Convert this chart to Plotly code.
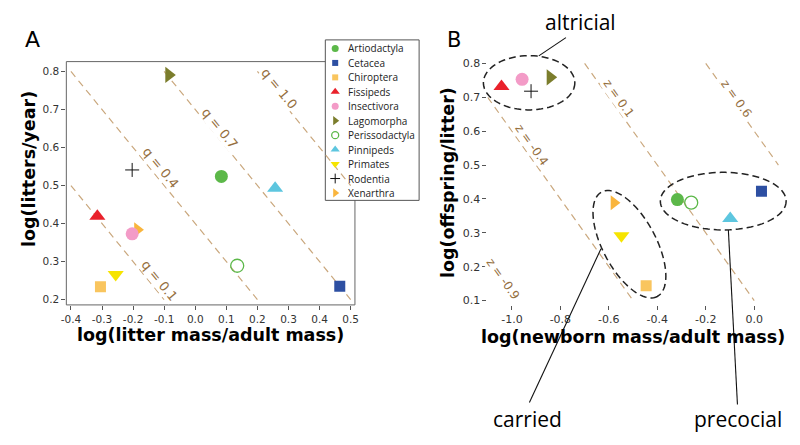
import numpy as np
import plotly.graph_objects as go

# the page body has an 8px margin, so the figure is drawn 8px in from the window corner
OFF = 8
W, H = 800 - OFF, 445 - OFF

orders = ['Artiodactyla', 'Cetacea', 'Chiroptera', 'Fissipeds', 'Insectivora', 'Lagomorpha',
          'Perissodactyla', 'Pinnipeds', 'Primates', 'Rodentia', 'Xenarthra']
colors = ['#5cb849', '#2d4fa2', '#f9c55e', '#e9212b', '#f39bc7', '#7b7d2c',
          '#5cb849', '#5dc6df', '#f6e400', '#111111', '#f9b53d']
symbols = ['circle', 'square', 'square', 'triangle-up', 'circle', 'triangle-right',
           'circle-open', 'triangle-up', 'triangle-down', 'cross-thin', 'triangle-right']
sizes = [13, 11, 11, 14, 13, 14, 13, 14, 14, 10, 13]
legend_sizes = [7, 6, 6, 8, 7, 8, 7, 8, 8, 7, 8]

# panel A
litter_mass = [0.084, 0.465, -0.305, -0.315, -0.203, -0.085, 0.135, 0.257, -0.256, -0.203, -0.186]
litters_year = [0.524, 0.235, 0.234, 0.419, 0.373, 0.791, 0.289, 0.493, 0.266, 0.541, 0.384]
# panel B
newborn_mass = [-0.317, 0.030, -0.446, -1.043, -0.958, -0.842, -0.260, -0.099, -0.548, -0.921, -0.579]
offspring = [0.398, 0.423, 0.144, 0.732, 0.753, 0.759, 0.389, 0.342, 0.291, 0.718, 0.389]

q_values = [0.1, 0.4, 0.7, 1.0]
q_label_x = [-0.116, -0.111, 0.080, 0.270]
q_label_y = [0.249, 0.548, 0.651, 0.755]
z_values = [-0.9, -0.4, 0.1, 0.6]
z_label_x = [-1.037, -0.918, -0.561, -0.072]
z_label_y = [0.163, 0.559, 0.697, 0.696]

a_xticks = [-0.4, -0.3, -0.2, -0.1, 0.0, 0.1, 0.2, 0.3, 0.4, 0.5]
a_xtext = ['-0.4', '-0.3', '-0.2', '-0.1', '0.0', '0.1', '0.2', '0.3', '0.4', '0.5']
a_yticks = [0.2, 0.3, 0.4, 0.5, 0.6, 0.7, 0.8]
a_ytext = ['0.2', '0.3', '0.4', '0.5', '0.6', '0.7', '0.8']
b_xticks = [-1.0, -0.8, -0.6, -0.4, -0.2, 0.0]
b_xtext = ['-1.0', '-0.8', '-0.6', '-0.4', '-0.2', '0.0']
b_yticks = [0.1, 0.2, 0.3, 0.4, 0.5, 0.6, 0.7, 0.8]
b_ytext = ['0.1', '0.2', '0.3', '0.4', '0.5', '0.6', '0.7', '0.8']

LINE_C = '#caa87e'
LABEL_C = '#96703f'


def pp(px, py):
    # window pixel -> paper
    return (px - OFF) / W, 1 - (py - OFF) / H


def ellipse_path(cx, cy, a, b, ang, n=90):
    t = np.linspace(0, 2 * np.pi, n, endpoint=False)
    th = np.radians(ang)
    xs = cx + a * np.cos(t) * np.cos(th) - b * np.sin(t) * np.sin(th)
    ys = cy + a * np.cos(t) * np.sin(th) + b * np.sin(t) * np.cos(th)
    pts = [pp(x, y) for x, y in zip(xs, ys)]
    return 'M' + ' L'.join('%.5f,%.5f' % p for p in pts) + ' Z'


fig = go.Figure()

# iso lines
for q in q_values:
    x0, x1 = max(-0.4, q - 0.8), min(0.5, q - 0.2)
    fig.add_trace(go.Scatter(x=[x0, x1], y=[q - x0, q - x1], mode='lines',
                             line=dict(color=LINE_C, width=1.2, dash='7px,5px'),
                             xaxis='x', yaxis='y', hoverinfo='skip'))
for z in z_values:
    x0, x1 = max(-1.1, z - 0.8), min(0.1, z - 0.1)
    fig.add_trace(go.Scatter(x=[x0, x1], y=[z - x0, z - x1], mode='lines',
                             line=dict(color=LINE_C, width=1.2, dash='7px,5px'),
                             xaxis='x2', yaxis='y2', hoverinfo='skip'))

# legend geometry (window pixels)
leg_l, leg_r, leg_t, leg_b = 323.3, 418.3, 37.3, 200
row0, row_h = 46, 14.65

for i, name in enumerate(orders):
    mk = dict(symbol=symbols[i], size=sizes[i], color=colors[i], line=dict(width=0))
    if symbols[i] == 'circle-open':
        mk['line'] = dict(color=colors[i], width=1.3)
    if symbols[i] == 'cross-thin':
        mk['line'] = dict(color=colors[i], width=1)
    zo = 2 if name == 'Insectivora' else 1
    fig.add_trace(go.Scatter(x=[litter_mass[i]], y=[litters_year[i]], mode='markers', marker=mk,
                             xaxis='x', yaxis='y', cliponaxis=False, zorder=zo, name=name))
    fig.add_trace(go.Scatter(x=[newborn_mass[i]], y=[offspring[i]], mode='markers', marker=mk,
                             xaxis='x2', yaxis='y2', cliponaxis=False, zorder=zo, name=name))
    lmk = dict(mk, size=legend_sizes[i])
    py = row0 + row_h * i
    fig.add_trace(go.Scatter(x=[(333.3 - leg_l) / (leg_r - leg_l)],
                             y=[(leg_b - py) / (leg_b - leg_t)], mode='markers', marker=lmk,
                             xaxis='x3', yaxis='y3', cliponaxis=False, name=name))

ann = []
for i, name in enumerate(orders):
    py = row0 + row_h * i
    ann.append(dict(x=(344.5 - leg_l) / (leg_r - leg_l), y=(leg_b - py) / (leg_b - leg_t),
                    xref='x3', yref='y3', text=name, showarrow=False, xanchor='left',
                    font=dict(family='Open Sans', size=10, color='#222')))

for q, lx, ly in zip(q_values, q_label_x, q_label_y):
    ann.append(dict(x=lx, y=ly, xref='x', yref='y', text='q = %.1f' % q, showarrow=False,
                    textangle=50.8, bgcolor='white', borderpad=0,
                    font=dict(family='DejaVu Sans', size=13, color=LABEL_C)))
for z, lx, ly in zip(z_values, z_label_x, z_label_y):
    ann.append(dict(x=lx, y=ly, xref='x2', yref='y2', text='z = %.1f' % z, showarrow=False,
                    textangle=54.5, bgcolor='white', borderpad=0,
                    font=dict(family='DejaVu Sans', size=12, color=LABEL_C)))

title_font = dict(family='DejaVu Sans', size=17.5, color='black')


def paper_text(px, py, text, font, angle=0):
    x, y = pp(px, py)
    return dict(x=x, y=y, xref='paper', yref='paper', text=text, showarrow=False,
                textangle=angle, xanchor='center', yanchor='middle', font=font)


ann += [
    paper_text(26.5, 37, 'A', dict(family='DejaVu Sans', size=22, color='black')),
    paper_text(454, 37.5, 'B', dict(family='DejaVu Sans', size=21, color='black')),
    paper_text(206.7, 337, '<b>log(litter mass/adult mass)</b>', title_font),
    paper_text(22.5, 168, '<b>log(litters/year)</b>', title_font, -90),
    paper_text(634.7, 338.5, '<b>log(newborn mass/adult mass)</b>', title_font),
    paper_text(447.5, 181.5, '<b>log(offspring/litter)</b>', title_font, -90),
    paper_text(581.7, 19, 'altricial', dict(family='Open Sans', size=21, color='black')),
    paper_text(528.3, 421.5, 'carried', dict(family='Open Sans', size=21, color='black')),
    paper_text(741.7, 421.5, 'precocial', dict(family='Open Sans', size=21, color='black')),
]

shapes = []
# panel A frame, then legend box covering it
fx0, fy0 = pp(61, 59.3)
fx1, fy1 = pp(353.3, 306)
shapes.append(dict(type='rect', xref='paper', yref='paper', x0=fx0, y0=fy1, x1=fx1, y1=fy0,
                   line=dict(color='#666', width=1), layer='below'))
lx0, ly0 = pp(leg_l, leg_t)
lx1, ly1 = pp(leg_r, leg_b)
shapes.append(dict(type='rect', xref='paper', yref='paper', x0=lx0, y0=ly1, x1=lx1, y1=ly0,
                   line=dict(color='#555', width=1), fillcolor='white', layer='below'))

# group ellipses (window pixel centre, semi axes, angle)
ellipses = [(529.7, 80.8, 46.3, 27.5, 0), (631.3, 244.5, 60, 27, 62), (726.3, 200.8, 63.7, 29.2, 0)]
for cx, cy, a, b, ang in ellipses:
    shapes.append(dict(type='path', xref='paper', yref='paper', path=ellipse_path(cx, cy, a, b, ang),
                       line=dict(color='#222', width=1.5, dash='7px,4px')))

callouts = [((539.5, 53.5), (567, 35)), ((530, 405), (602.5, 249)), ((740.7, 407), (731.5, 230))]
for (p0, p1) in callouts:
    x0, y0 = pp(*p0)
    x1, y1 = pp(*p1)
    shapes.append(dict(type='line', xref='paper', yref='paper', x0=x0, y0=y0, x1=x1, y1=y1,
                       line=dict(color='#111', width=1.1)))

tick_font_a = dict(family='DejaVu Sans', size=10.5, color='#333')
tick_font_b = dict(family='DejaVu Sans', size=11, color='#333')
ax_common = dict(showgrid=False, zeroline=False, ticks='outside', ticklen=4, tickcolor='#555',
                 tickmode='array', fixedrange=True)

ax_a = [pp(61, 0)[0], pp(353.3, 0)[0]]
ay_a = [pp(0, 306)[1], pp(0, 59.3)[1]]
bx_a = [pp(487.5, 0)[0], pp(782.7, 0)[0]]
by_a = [pp(0, 305.7)[1], pp(0, 57.7)[1]]
lgx = [pp(leg_l, 0)[0], pp(leg_r, 0)[0]]
lgy = [pp(0, leg_b)[1], pp(0, leg_t)[1]]

fig.update_layout(
    width=W, height=H, margin=dict(l=0, r=0, t=0, b=0),
    paper_bgcolor='white', plot_bgcolor='rgba(0,0,0,0)', showlegend=False,
    xaxis=dict(ax_common, domain=ax_a, range=[-0.4148, 0.5138], anchor='y',
               tickvals=a_xticks, ticktext=a_xtext, tickfont=tick_font_a, showline=False),
    yaxis=dict(ax_common, domain=ay_a, range=[0.186, 0.826], anchor='x',
               tickvals=a_yticks, ticktext=a_ytext, tickfont=tick_font_a, showline=False),
    xaxis2=dict(ax_common, domain=bx_a, range=[-1.101, 0.102], anchor='y2',
                tickvals=b_xticks, ticktext=b_xtext, tickfont=tick_font_b,
                showline=True, mirror=True, linecolor='#666', linewidth=1),
    yaxis2=dict(ax_common, domain=by_a, range=[0.088, 0.81], anchor='x2',
                tickvals=b_yticks, ticktext=b_ytext, tickfont=tick_font_b,
                showline=True, mirror=True, linecolor='#666', linewidth=1),
    xaxis3=dict(domain=lgx, range=[0, 1], anchor='y3', visible=False, fixedrange=True),
    yaxis3=dict(domain=lgy, range=[0, 1], anchor='x3', visible=False, fixedrange=True),
    annotations=ann, shapes=shapes,
)

fig.write_html("out.html")
